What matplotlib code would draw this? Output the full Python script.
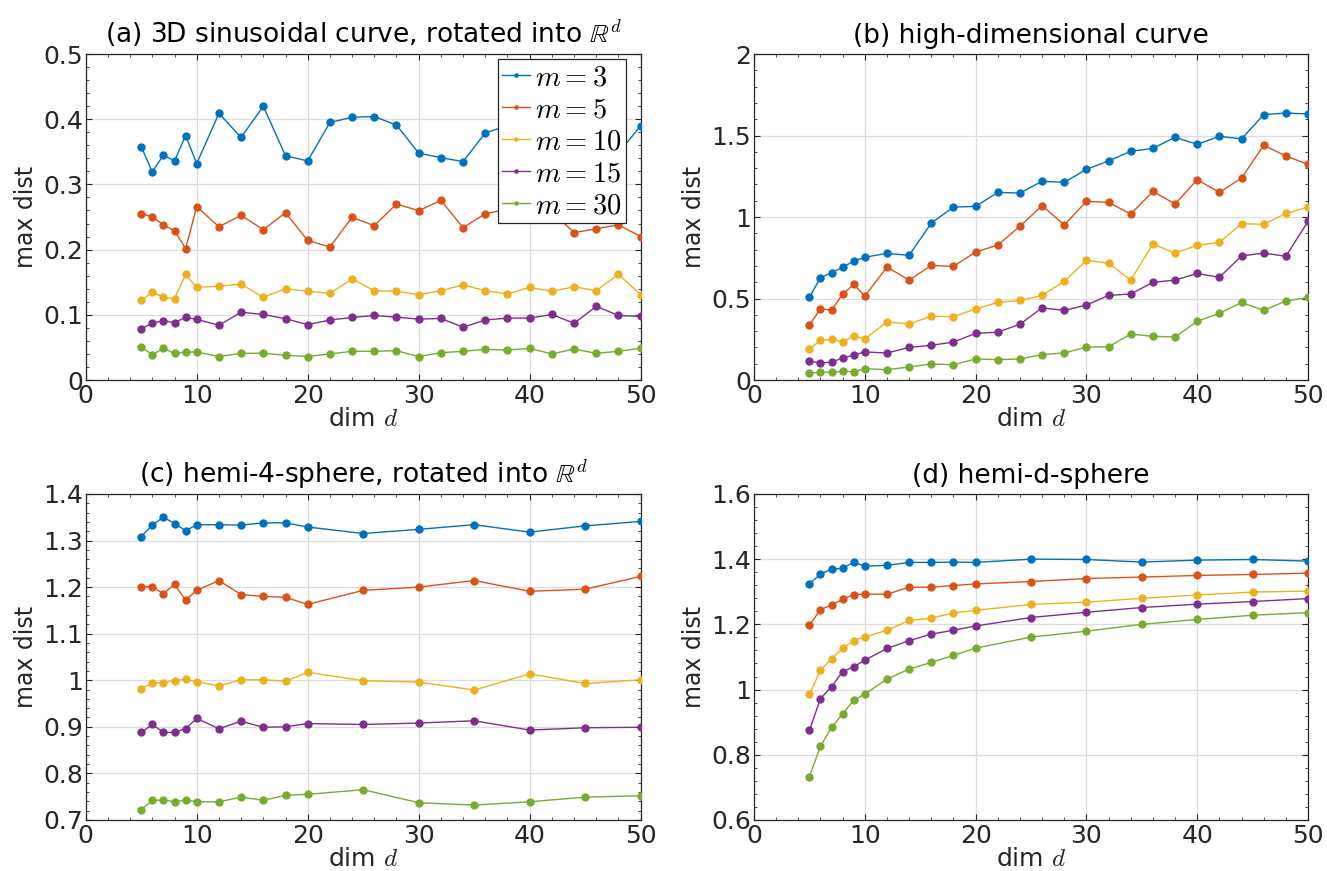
import matplotlib
matplotlib.use("Agg")
import matplotlib.pyplot as plt
from matplotlib.ticker import AutoMinorLocator, FuncFormatter

plt.rcParams['font.family'] = ['DejaVu Sans']
plt.rcParams['mathtext.fontset'] = 'cm'

# ---------------- data ----------------
dims_ab = [5, 6, 7, 8, 9, 10, 12, 14, 16, 18, 20, 22, 24, 26, 28, 30, 32, 34, 36, 38, 40, 42, 44, 46, 48, 50]
dims_cd = [5, 6, 7, 8, 9, 10, 12, 14, 16, 18, 20, 25, 30, 35, 40, 45, 50]

m_labels = [r'$m=3$', r'$m=5$', r'$m=10$', r'$m=15$', r'$m=30$']
colors = ['#0072BD', '#D95319', '#EDB120', '#7E2F8E', '#77AC30']

a_m3 = [0.358, 0.319, 0.345, 0.336, 0.375, 0.332, 0.409, 0.372, 0.420, 0.344, 0.336, 0.395, 0.403, 0.404, 0.391, 0.348, 0.341, 0.335, 0.379, 0.390, 0.372, 0.385, 0.365, 0.355, 0.348, 0.390]
a_m5 = [0.255, 0.2505, 0.238, 0.229, 0.2015, 0.266, 0.235, 0.2526, 0.2306, 0.2566, 0.214, 0.204, 0.2495, 0.2367, 0.270, 0.2597, 0.2755, 0.2337, 0.255, 0.262, 0.270, 0.258, 0.226, 0.232, 0.238, 0.220]
a_m10 = [0.122, 0.1347, 0.127, 0.125, 0.162, 0.142, 0.144, 0.147, 0.127, 0.140, 0.136, 0.133, 0.155, 0.137, 0.136, 0.131, 0.137, 0.146, 0.137, 0.132, 0.142, 0.136, 0.143, 0.137, 0.162, 0.131]
a_m15 = [0.0786, 0.087, 0.091, 0.088, 0.096, 0.093, 0.084, 0.104, 0.1005, 0.094, 0.085, 0.092, 0.096, 0.099, 0.0964, 0.0934, 0.0944, 0.081, 0.092, 0.095, 0.095, 0.1005, 0.087, 0.113, 0.099, 0.0975]
a_m30 = [0.0505, 0.039, 0.0485, 0.041, 0.043, 0.043, 0.036, 0.041, 0.041, 0.038, 0.036, 0.040, 0.044, 0.044, 0.045, 0.036, 0.042, 0.044, 0.047, 0.046, 0.0485, 0.040, 0.0475, 0.041, 0.044, 0.049]

b_m3 = [0.507, 0.628, 0.658, 0.691, 0.730, 0.753, 0.777, 0.765, 0.963, 1.061, 1.065, 1.151, 1.147, 1.219, 1.213, 1.292, 1.344, 1.403, 1.421, 1.489, 1.446, 1.495, 1.479, 1.628, 1.638, 1.632]
b_m5 = [0.337, 0.436, 0.429, 0.526, 0.587, 0.515, 0.693, 0.613, 0.703, 0.697, 0.785, 0.828, 0.943, 1.070, 0.951, 1.096, 1.090, 1.018, 1.157, 1.080, 1.229, 1.151, 1.239, 1.440, 1.374, 1.323]
b_m10 = [0.188, 0.245, 0.249, 0.233, 0.270, 0.252, 0.356, 0.344, 0.391, 0.389, 0.436, 0.476, 0.489, 0.519, 0.605, 0.734, 0.716, 0.613, 0.834, 0.779, 0.826, 0.845, 0.959, 0.955, 1.022, 1.061]
b_m15 = [0.115, 0.104, 0.110, 0.135, 0.153, 0.172, 0.166, 0.200, 0.213, 0.233, 0.286, 0.294, 0.342, 0.443, 0.427, 0.460, 0.519, 0.528, 0.599, 0.613, 0.654, 0.630, 0.761, 0.779, 0.759, 0.973]
b_m30 = [0.043, 0.047, 0.049, 0.053, 0.051, 0.070, 0.063, 0.080, 0.098, 0.094, 0.129, 0.125, 0.129, 0.156, 0.166, 0.202, 0.204, 0.282, 0.268, 0.264, 0.360, 0.409, 0.476, 0.427, 0.485, 0.507]

c_m3 = [1.3086, 1.333, 1.350, 1.3365, 1.321, 1.334, 1.334, 1.333, 1.338, 1.338, 1.329, 1.315, 1.324, 1.334, 1.318, 1.3315, 1.341]
c_m5 = [1.201, 1.2005, 1.186, 1.206, 1.172, 1.193, 1.214, 1.184, 1.180, 1.178, 1.163, 1.193, 1.200, 1.214, 1.191, 1.1955, 1.223]
c_m10 = [0.982, 0.994, 0.995, 0.999, 1.002, 0.997, 0.988, 1.001, 1.001, 0.998, 1.017, 0.999, 0.996, 0.979, 1.0136, 0.993, 1.001]
c_m15 = [0.888, 0.905, 0.888, 0.888, 0.896, 0.918, 0.896, 0.912, 0.899, 0.900, 0.907, 0.905, 0.908, 0.913, 0.893, 0.898, 0.899]
c_m30 = [0.722, 0.742, 0.743, 0.739, 0.743, 0.739, 0.739, 0.749, 0.742, 0.753, 0.755, 0.765, 0.737, 0.732, 0.739, 0.749, 0.752]

d_m3 = [1.324, 1.354, 1.369, 1.372, 1.391, 1.3785, 1.381, 1.390, 1.390, 1.391, 1.390, 1.400, 1.399, 1.391, 1.397, 1.399, 1.394]
d_m5 = [1.197, 1.2455, 1.259, 1.277, 1.2915, 1.2925, 1.2925, 1.314, 1.314, 1.319, 1.324, 1.3314, 1.3406, 1.345, 1.350, 1.353, 1.357]
d_m10 = [0.985, 1.059, 1.095, 1.126, 1.150, 1.161, 1.182, 1.212, 1.219, 1.235, 1.243, 1.261, 1.268, 1.280, 1.290, 1.299, 1.302]
d_m15 = [0.875, 0.972, 1.009, 1.055, 1.070, 1.090, 1.126, 1.150, 1.170, 1.182, 1.195, 1.221, 1.237, 1.2516, 1.262, 1.270, 1.279]
d_m30 = [0.733, 0.826, 0.884, 0.926, 0.967, 0.986, 1.032, 1.063, 1.083, 1.105, 1.127, 1.161, 1.179, 1.200, 1.215, 1.228, 1.236]

panels = [
    dict(title=r'(a) 3D sinusoidal curve, rotated into $\mathbb{R}^d$', x=dims_ab,
         ys=[a_m3, a_m5, a_m10, a_m15, a_m30], ylim=(0, 0.5), yticks=[0, 0.1, 0.2, 0.3, 0.4, 0.5],
         pos=[0.0646, 0.5637, 0.4182, 0.3743], legend=True),
    dict(title='(b) high-dimensional curve', x=dims_ab,
         ys=[b_m3, b_m5, b_m10, b_m15, b_m30], ylim=(0, 2), yticks=[0, 0.5, 1, 1.5, 2],
         pos=[0.5682, 0.5637, 0.4175, 0.3743], legend=False),
    dict(title=r'(c) hemi-4-sphere, rotated into $\mathbb{R}^d$', x=dims_cd,
         ys=[c_m3, c_m5, c_m10, c_m15, c_m30], ylim=(0.7, 1.4), yticks=[0.7, 0.8, 0.9, 1.0, 1.1, 1.2, 1.3, 1.4],
         pos=[0.0646, 0.0586, 0.4182, 0.3743], legend=False),
    dict(title='(d) hemi-d-sphere', x=dims_cd,
         ys=[d_m3, d_m5, d_m10, d_m15, d_m30], ylim=(0.6, 1.6), yticks=[0.6, 0.8, 1.0, 1.2, 1.4, 1.6],
         pos=[0.5682, 0.0586, 0.4175, 0.3743], legend=False),
]

fig = plt.figure(figsize=(13.27, 8.71), dpi=100)
axcol = '#262626'

for p in panels:
    ax = fig.add_axes(p['pos'])
    for y, c, lab in zip(p['ys'], colors, m_labels):
        ax.plot(p['x'], y, '-', color=c, lw=1.0, marker='o', ms=6, mew=0, label=lab, zorder=3)
    ax.set_xlim(0, 50)
    ax.set_ylim(*p['ylim'])
    ax.set_xticks([0, 10, 20, 30, 40, 50])
    ax.set_yticks(p['yticks'])
    ax.yaxis.set_major_formatter(FuncFormatter(lambda v, pos: '%g' % round(v, 6)))
    ax.xaxis.set_minor_locator(AutoMinorLocator(5))
    ax.yaxis.set_minor_locator(AutoMinorLocator(5))
    ax.grid(True, which='major', color='#dcdcdc', lw=0.9, zorder=0)
    ax.set_axisbelow(True)
    ax.tick_params(which='both', direction='in', top=True, right=True, colors=axcol)
    ax.tick_params(which='major', length=4.5, width=0.8, labelsize=18)
    ax.tick_params(which='minor', length=2.5, width=0.6)
    ax.tick_params(axis='x', which='major', pad=3)
    ax.tick_params(axis='y', which='major', pad=2)
    for lbl in ax.get_xticklabels() + ax.get_yticklabels():
        lbl.set_color('#262626')
    for s in ax.spines.values():
        s.set_color(axcol)
        s.set_linewidth(0.9)
    ax.set_title(p['title'], fontsize=19, color='#000000', pad=8)
    ax.set_xlabel(r'dim $d$', fontsize=18, color='#262626', labelpad=-1)
    ax.set_ylabel('max dist', fontsize=17, color='#262626', labelpad=4)
    if p['legend']:
        leg = ax.legend(loc='upper right', bbox_to_anchor=(0.9735, 0.985), fontsize=20.5,
                        handlelength=0.95, handletextpad=0.2, labelspacing=0.14,
                        borderpad=0.15, borderaxespad=0.0, markerscale=0.55,
                        fancybox=False, framealpha=1.0, edgecolor=axcol)
        leg.get_frame().set_linewidth(0.9)

fig.savefig('out.png', dpi=100)
